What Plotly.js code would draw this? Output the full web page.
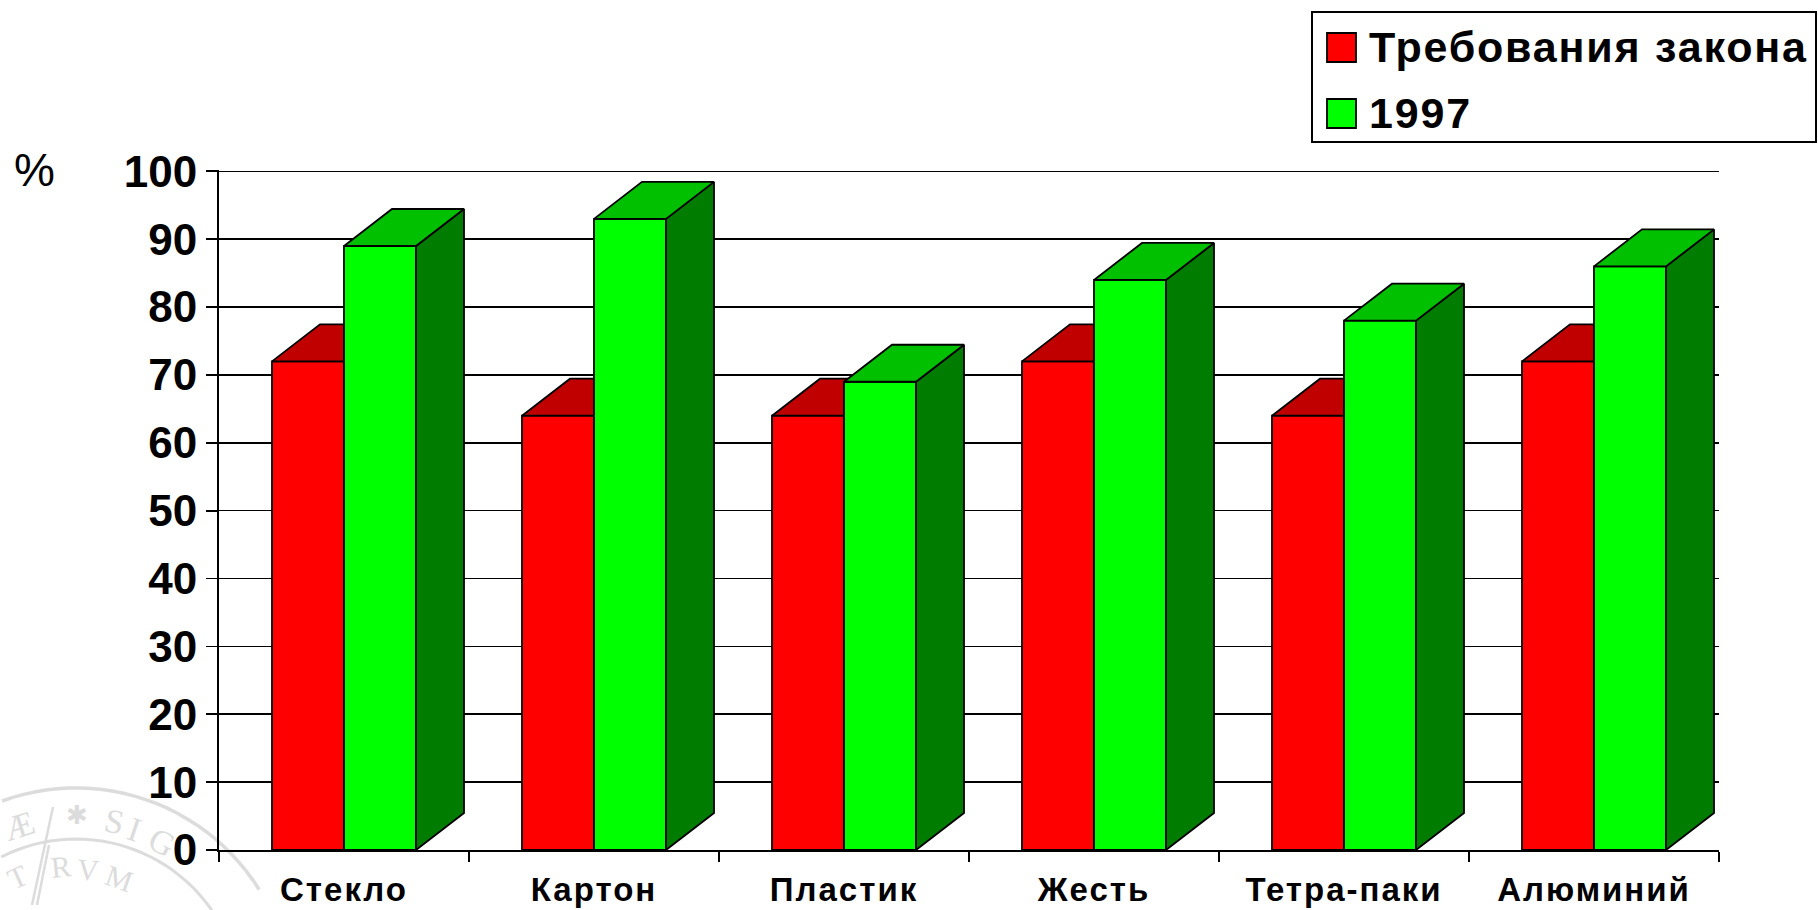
<!DOCTYPE html>
<html><head><meta charset="utf-8">
<script src="https://cdn.plot.ly/plotly-3.0.1.min.js"></script>
<style>html,body{margin:0;padding:0;background:#fff}#c{width:1818px;height:910px}
.xtick text{letter-spacing:2px}
.annotation-text{letter-spacing:1.8px}
</style>
</head><body><div id="c"></div>
<script>
const categories = ["Стекло","Картон","Пластик","Жесть","Тетра-паки","Алюминий"];
const lawValues = [72,64,64,72,64,72];
const y1997Values = [89,93,69,84,78,86];
const seriesNames = ["Требования закона","1997"];
const seriesColors = ["#ff0000","#00ff00"];
const yTicks = [0,10,20,30,40,50,60,70,80,90,100];

const barW = 0.288, depthX = 0.192, depthY = 5.45;
const FONT = "Liberation Sans, Arial, sans-serif";
const idx = categories.map((_,i)=>i);
const px = x => (x-219)/1500, py = y => (850-y)/680;

function faces(values, offset){
  const sx=[],sy=[],tx=[],ty=[];
  values.forEach((v,i)=>{
    const l=i+offset, r=l+barW;
    sx.push(r,r+depthX,r+depthX,r,r,null);
    sy.push(0,depthY,v+depthY,v,0,null);
    tx.push(l,r,r+depthX,l+depthX,l,null);
    ty.push(v,v,v+depthY,v+depthY,v,null);
  });
  return {sx,sy,tx,ty};
}
function poly(x,y,color,xa,ya){
  return {type:"scatter",mode:"lines",x,y,xaxis:xa,yaxis:ya,fill:"toself",fillcolor:color,
    line:{color:"#000",width:1.8},showlegend:false,hoverinfo:"skip",cliponaxis:false};
}
const fr=faces(lawValues,-barW), fg=faces(y1997Values,0);
const barLine={color:"#000",width:1.8};
const data=[
  {type:"bar",name:seriesNames[0],x:categories,y:lawValues,width:barW,offset:-barW,showlegend:false,
   marker:{color:seriesColors[0],line:barLine},xaxis:"x",yaxis:"y"},
  poly(fr.sx,fr.sy,"#800000","x2","y"),
  poly(fr.tx,fr.ty,"#c00000","x2","y"),
  {type:"bar",name:seriesNames[1],x:idx,y:y1997Values,width:barW,offset:0,showlegend:false,
   marker:{color:seriesColors[1],line:barLine},xaxis:"x3",yaxis:"y3"},
  poly(fg.sx,fg.sy,"#007c00","x3","y3"),
  poly(fg.tx,fg.ty,"#00c000","x3","y3")
];
const yRange=[0,100.2];
const hiddenX={overlaying:"x",range:[-0.5,5.5],type:"linear",visible:false,fixedrange:true,anchor:"y"};

/* faint university seal behind the chart, bottom-left */
const sealColor="#dcdcdc", sealCx=76, sealCy=1004;
function arc(r,a0,a1){
  let d="";
  for(let a=a0;a<=a1;a+=3){
    const t=a*Math.PI/180;
    d+=(d?"L":"M")+(sealCx+r*Math.sin(t)).toFixed(1)+","+(sealCy-r*Math.cos(t)).toFixed(1);
  }
  return d;
}
function pxShape(d,color,w){
  return {type:"path",layer:"below",xref:"paper",yref:"paper",path:d,line:{color,width:w}};
}
function toPaperPath(d){
  return d.replace(/(-?[\d.]+),(-?[\d.]+)/g,(m,x,y)=>px(+x).toFixed(5)+","+py(+y).toFixed(5));
}
const sealShapes=[
  pxShape(toPaperPath(arc(216,-20,60)),sealColor,3.5),
  pxShape(toPaperPath(arc(165,-27,60)),sealColor,3),
  pxShape(toPaperPath("M53,807L32,905"),sealColor,2.5),
  pxShape(toPaperPath("M49,845L37,905"),sealColor,2.5)
];
const sealLetters=[["S",115,821],["I",135,829],["G",163,842],
  ["R",62,867],["V",88,870],["M",120,878],["Æ",20,825],["T",18,876]];
const sealAnn=sealLetters.map(([t,x,y])=>({text:t,xref:"paper",yref:"paper",x:px(x),y:py(y),
  xanchor:"center",yanchor:"middle",showarrow:false,
  textangle:Math.atan2(x-sealCx,sealCy-y)*180/Math.PI,
  font:{family:"Liberation Serif, serif",size:y<850?34:30,color:sealColor}}));
sealAnn.push({text:"✱",xref:"paper",yref:"paper",x:px(78),y:py(815),xanchor:"center",yanchor:"middle",showarrow:false,
  font:{family:"DejaVu Sans",size:26,color:sealColor}});

/* legend box drawn to the reference's size */
const swatchTop=[33,99], swatchH=29;
const legShapes=[{type:"rect",xref:"paper",yref:"paper",x0:px(1312),x1:px(1816),y0:py(142),y1:py(12),
  fillcolor:"#fff",line:{color:"#000",width:2}}];
const legAnn=[];
seriesNames.forEach((n,i)=>{
  legShapes.push({type:"rect",xref:"paper",yref:"paper",x0:px(1327),x1:px(1356),y0:py(swatchTop[i]+swatchH),y1:py(swatchTop[i]),
    fillcolor:seriesColors[i],line:{color:"#000",width:1.8}});
  legAnn.push({text:n,xref:"paper",yref:"paper",x:px(1369),y:py(swatchTop[i]+14),xanchor:"left",yanchor:"middle",
    showarrow:false,xshift:-2,font:{family:FONT,size:43,color:"#000",weight:700}});
});

const layout={
  width:1818,height:910,margin:{l:219,r:99,t:170,b:60,pad:0},
  paper_bgcolor:"#fff",plot_bgcolor:"#fff",barmode:"overlay",showlegend:false,
  font:{family:FONT,color:"#000"},
  xaxis:{type:"category",categoryorder:"array",categoryarray:categories,range:[-0.5,5.5],
    tickson:"boundaries",ticks:"outside",ticklen:10,tickwidth:1.8,tickcolor:"#000",ticklabelstandoff:9,
    showline:true,linecolor:"#000",linewidth:2,showgrid:false,
    tickfont:{family:FONT,size:33,color:"#000",weight:700}},
  xaxis2:hiddenX,
  xaxis3:Object.assign({},hiddenX,{anchor:"y3"}),
  yaxis:{range:yRange,tickvals:yTicks,ticks:"outside",ticklen:11,tickwidth:1.8,tickcolor:"#000",
    showline:true,linecolor:"#000",linewidth:2,showgrid:true,gridcolor:"#000",gridwidth:1.6,zeroline:false,
    tickfont:{family:FONT,size:44,color:"#000",weight:700}},
  yaxis3:{overlaying:"y",range:yRange,visible:false,fixedrange:true,anchor:"x3"},
  shapes:sealShapes.concat(legShapes),
  annotations:[
    {text:"%",xref:"paper",yref:"paper",x:px(35),y:py(170),xanchor:"center",yanchor:"middle",showarrow:false,
     font:{family:FONT,size:46,color:"#000"}}
  ].concat(sealAnn,legAnn)
};
Plotly.newPlot("c",data,layout,{displayModeBar:false,staticPlot:true});
</script></body></html>
